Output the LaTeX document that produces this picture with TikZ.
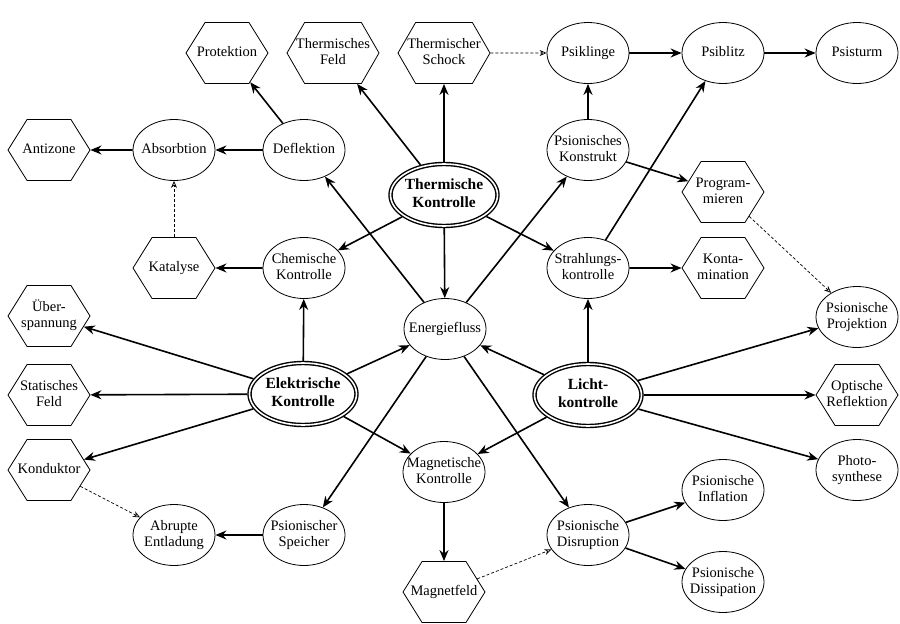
\documentclass[tikz,border=0pt]{standalone}
\usepackage{fontspec}
\setmainfont{Liberation Serif}
\usetikzlibrary{shapes.geometric,shapes.symbols,arrows.meta}
\newcommand\nt[1]{\makebox[0pt]{\begin{tabular}{@{}c@{}}#1\end{tabular}}}
\tikzset{
  every node/.style={font=\fontsize{14.5}{16.5}\selectfont, inner sep=0pt},
  el/.style={ellipse, draw, line width=0.8pt, minimum width=82pt, minimum height=61pt},
  hex/.style={signal, signal to=east and west, signal pointer angle=116, draw, line width=0.8pt, minimum width=82pt, minimum height=61pt},
  dbl/.style={ellipse, draw, line width=1.4pt, double, double distance=1.6pt, minimum width=107pt, minimum height=62pt, font=\fontsize{15.5}{17.5}\selectfont\bfseries, outer sep=2.2pt},
  arr/.style={-{Stealth[length=11pt,width=9pt]}, line width=1.6pt},
  darr/.style={-{Stealth[open,length=7pt,width=6pt]}, line width=0.7pt, dash pattern=on 3pt off 2pt},
}
\begin{document}
\begin{tikzpicture}[x=1pt,y=-1pt]
\useasboundingbox (0,0) rectangle (900,624);
% top row
\node[hex] (prot) at (227,53) {\nt{Protektion}};
\node[hex, minimum width=92pt, signal pointer angle=120] (tfeld) at (333,53) {\nt{Thermisches\\Feld}};
\node[hex, minimum width=92pt, signal pointer angle=120] (tschock) at (444,53) {\nt{Thermischer\\Schock}};
\node[el] (psik) at (588,53) {\nt{Psiklinge}};
\node[el] (psib) at (723,53) {\nt{Psiblitz}};
\node[el] (psis) at (857,53) {\nt{Psisturm}};
% second row
\node[hex] (anti) at (49,150) {\nt{Antizone}};
\node[el] (abs) at (174,150) {\nt{Absorbtion}};
\node[el] (defl) at (304,150) {\nt{Deflektion}};
\node[dbl] (therm) at (444,195) {\nt{Thermische\\Kontrolle}};
\node[el] (konst) at (588,150) {\nt{Psionisches\\Konstrukt}};
\node[hex] (prog) at (723,192) {\nt{Program-\\mieren}};
% third row
\node[hex] (kat) at (174,268) {\nt{Katalyse}};
\node[el] (chem) at (304,268) {\nt{Chemische\\Kontrolle}};
\node[el] (energ) at (445,329) {\nt{Energiefluss}};
\node[el] (strahl) at (588,268) {\nt{Strahlungs-\\kontrolle}};
\node[hex] (konta) at (723,268) {\nt{Konta-\\mination}};
\node[el] (proj) at (857,317) {\nt{Psionische\\Projektion}};
% left column
\node[hex] (ueber) at (49,316) {\nt{Über-\\spannung}};
\node[hex] (stat) at (49,395) {\nt{Statisches\\Feld}};
\node[hex] (kond) at (49,470) {\nt{Konduktor}};
% middle
\node[dbl] (elek) at (303,394) {\nt{Elektrische\\Kontrolle}};
\node[dbl] (licht) at (588,395) {\nt{Licht-\\kontrolle}};
\node[hex] (opt) at (857,395) {\nt{Optische\\Reflektion}};
\node[el] (magn) at (444,472) {\nt{Magnetische\\Kontrolle}};
\node[el] (photo) at (857,470) {\nt{Photo-\\synthese}};
\node[el] (infl) at (723,490) {\nt{Psionische\\Inflation}};
\node[el] (abr) at (174,535) {\nt{Abrupte\\Entladung}};
\node[el] (speich) at (304,535) {\nt{Psionischer\\Speicher}};
\node[el] (disr) at (588,535) {\nt{Psionische\\Disruption}};
\node[el] (diss) at (723,582) {\nt{Psionische\\Dissipation}};
\node[hex] (mfeld) at (444,592) {\nt{Magnetfeld}};
% solid arrows
\draw[arr] (defl) -- (prot);
\draw[arr] (defl) -- (abs);
\draw[arr] (abs) -- (anti);
\draw[arr] (chem) -- (kat);
\draw[arr] (therm) -- (tfeld);
\draw[arr] (therm) -- (tschock);
\draw[arr] (psik) -- (psib);
\draw[arr] (psib) -- (psis);
\draw[arr] (konst) -- (psik);
\draw[arr] (konst) -- (prog);
\draw[arr] (strahl) -- (psib);
\draw[arr] (strahl) -- (konta);
\draw[arr] (therm) -- (chem);
\draw[arr] (therm) -- (energ);
\draw[arr] (therm) -- (strahl);
\draw[arr] (energ) -- (defl);
\draw[arr] (energ) -- (konst);
\draw[arr] (elek) -- (chem);
\draw[arr] (elek) -- (ueber);
\draw[arr] (elek) -- (stat);
\draw[arr] (elek) -- (kond);
\draw[arr] (elek) -- (energ);
\draw[arr] (elek) -- (magn);
\draw[arr] (speich) -- (abr);
\draw[arr] (energ) -- (speich);
\draw[arr] (energ) -- (disr);
\draw[arr] (licht) -- (energ);
\draw[arr] (licht) -- (strahl);
\draw[arr] (licht) -- (magn);
\draw[arr] (licht) -- (proj);
\draw[arr] (licht) -- (opt);
\draw[arr] (licht) -- (photo);
\draw[arr] (magn) -- (mfeld);
\draw[arr] (disr) -- (infl);
\draw[arr] (disr) -- (diss);
% dashed arrows
\draw[darr] (kat) -- (abs);
\draw[darr] (tschock) -- (psik);
\draw[darr] (prog) -- (proj);
\draw[darr] (kond) -- (abr);
\draw[darr] (mfeld) -- (disr);
\end{tikzpicture}
\end{document}
